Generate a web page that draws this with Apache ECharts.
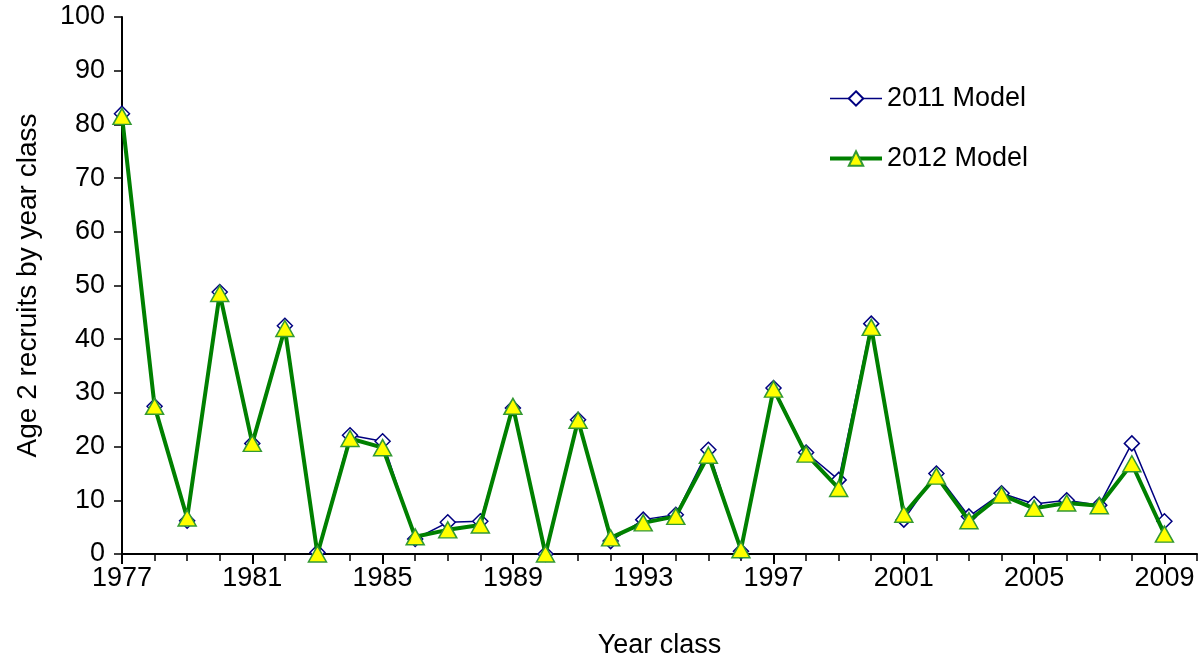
<!DOCTYPE html>
<html>
<head>
<meta charset="utf-8">
<script src="https://cdn.jsdelivr.net/npm/echarts@6/dist/echarts.min.js"></script>
<style>
  html, body { margin: 0; padding: 0; background: #fff; }
  #chart { width: 1202px; height: 664px; }
</style>
</head>
<body>
<div id="chart"></div>
<script>
// year classes (2010 is an empty slot at the end of the axis)
const years = [];
for (let y = 1977; y <= 2010; y++) years.push(String(y));

// values
const model2011 = [82, 27.5, 6.2, 48.8, 20.6, 42.5, 0.3, 22.1, 21, 2.8,
    5.9, 6.1, 27.2, 0, 25, 2.4, 6.4, 7.3, 19.4, 0.5,
    30.9, 18.9, 13.8, 42.9, 6.4, 15, 7, 11.3, 9.3, 10,
    9.1, 20.6, 6.1, null];
const model2012 = [81.5, 27.5, 6.7, 48.5, 20.6, 42, 0, 21.5, 19.8, 3.2,
    4.5, 5.4, 27.5, 0, 24.9, 3, 5.8, 7, 18.4, 0.8,
    30.7, 18.6, 12.2, 42.2, 7.4, 14.5, 6.2, 11, 8.5, 9.5,
    9, 16.8, 3.7, null];

const chart = echarts.init(document.getElementById('chart'));
const font = 'Liberation Sans, Arial, sans-serif';

const option = {
    backgroundColor: '#fff',
    animation: false,
    grid: { left: 122, right: 5, top: 17, bottom: 108, containLabel: false },
    legend: {
        orient: 'vertical',
        left: 823,
        top: 80,
        itemGap: 33,
        itemWidth: 52,
        itemHeight: 18,
        textStyle: { fontFamily: font, fontSize: 27, color: '#000' },
        data: [
            { name: '2011 Model', lineStyle: { width: 1.5 } },
            { name: '2012 Model', lineStyle: { width: 4 } }
        ]
    },
    xAxis: [{
        type: 'category',
        data: years,
        boundaryGap: false,
        name: 'Year class',
        nameLocation: 'middle',
        nameGap: 78,
        nameTextStyle: { fontFamily: font, fontSize: 27, color: '#000' },
        axisLine: { lineStyle: { color: '#000', width: 2 } },
        axisTick: { show: true, interval: 0, length: 7, lineStyle: { color: '#000', width: 1.5 } },
        axisLabel: { interval: 3, margin: 11, fontFamily: font, fontSize: 27, color: '#000' },
        splitLine: { show: false }
    }, {
        // longer ticks at the labelled years
        type: 'category',
        data: years,
        boundaryGap: false,
        position: 'bottom',
        axisLine: { show: false },
        axisTick: { show: true, interval: 3, length: 10, lineStyle: { color: '#000', width: 2 } },
        axisLabel: { show: false },
        splitLine: { show: false }
    }],
    yAxis: {
        type: 'value',
        min: 0,
        max: 100,
        interval: 10,
        name: 'Age 2 recruits by year class',
        nameLocation: 'middle',
        nameGap: 80,
        nameTextStyle: { fontFamily: font, fontSize: 28, color: '#000' },
        axisLine: { show: true, lineStyle: { color: '#000', width: 2 } },
        axisTick: { show: true, length: 8, lineStyle: { color: '#000', width: 1.5 } },
        axisLabel: { margin: 17, fontFamily: font, fontSize: 27, color: '#000' },
        splitLine: { show: false }
    },
    series: [
        {
            name: '2011 Model',
            type: 'line',
            data: model2011,
            symbol: 'diamond',
            symbolSize: 15,
            showAllSymbol: true,
            lineStyle: { color: '#000080', width: 1.5 },
            itemStyle: { color: '#fff', borderColor: '#000080', borderWidth: 1.5 },
            z: 2
        },
        {
            name: '2012 Model',
            type: 'line',
            data: model2012,
            symbol: 'triangle',
            symbolSize: [18, 16],
            showAllSymbol: true,
            lineStyle: { color: '#008000', width: 4 },
            itemStyle: { color: '#ffff00', borderColor: '#339933', borderWidth: 1.5 },
            z: 3
        }
    ]
};

chart.setOption(option);
</script>
</body>
</html>
